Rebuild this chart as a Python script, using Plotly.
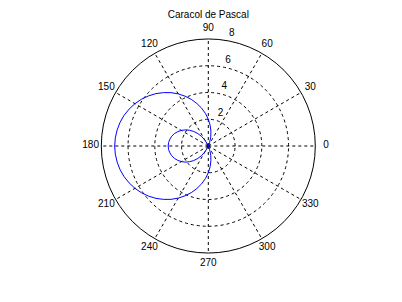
import plotly.graph_objects as go

# Caracol de Pascal (limaçon): signed radius per angle (deg)
theta_deg = [0, 5, 10, 15, 20, 25, 30, 35, 40, 45, 50, 55, 60, 65, 66.4, 70, 75, 80, 85,
             90, 95, 100, 105, 110, 115, 120, 125, 130, 135, 140, 145, 150, 155, 160, 165,
             170, 175, 180, 185, 190, 195, 200, 205, 210, 215, 220, 225, 230, 235, 240,
             245, 250, 255, 260, 265, 270, 275, 280, 285, 290, 293.6, 295, 300, 305, 310,
             315, 320, 325, 330, 335, 340, 345, 350, 355, 360]
r_signed = [-3.0, -2.98, -2.92, -2.83, -2.70, -2.53, -2.33, -2.10, -1.83, -1.54, -1.21, -0.87,
            -0.5, -0.11, 0.0, 0.29, 0.71, 1.13, 1.56,
            2.0, 2.44, 2.87, 3.29, 3.71, 4.11, 4.5, 4.87, 5.21, 5.54, 5.83, 6.10, 6.33, 6.53,
            6.70, 6.83, 6.92, 6.98, 7.0, 6.98, 6.92, 6.83, 6.70, 6.53, 6.33, 6.10, 5.83,
            5.54, 5.21, 4.87, 4.5, 4.11, 3.71, 3.29, 2.87, 2.44, 2.0, 1.56, 1.13, 0.71, 0.29,
            0.0, -0.11, -0.5, -0.87, -1.21, -1.54, -1.83, -2.10, -2.33, -2.53, -2.70, -2.83,
            -2.92, -2.98, -3.0]

radial_ticks = [2, 4, 6, 8]
radial_labels = [str(v) for v in radial_ticks]
angle_ticks = [0, 30, 60, 90, 120, 150, 180, 210, 240, 270, 300, 330]
angle_labels = [str(a) for a in angle_ticks]
title_text = "Caracol de Pascal"
r_max = 8
r_outer = 9.5   # range of the transparent label layer

# a negative radius is drawn on the opposite side, as MATLAB's polar does
plot_r = [abs(v) for v in r_signed]
plot_t = [(t + 180) % 360 if v < 0 else t for t, v in zip(theta_deg, r_signed)]

family = "Liberation Sans, Arial, sans-serif"
font = dict(family=family, size=10, color="black")

# geometry of the main polar disc in pixels
W, H = 402, 302
cx, cy, rad = 208.3, 146.0, 107.0
rad2 = rad * r_outer / r_max

fig = go.Figure()
fig.add_trace(go.Scatterpolar(
    r=plot_r, theta=plot_t, mode="lines",
    line=dict(color="rgb(0,0,255)", width=1),
    showlegend=False, hoverinfo="skip", subplot="polar",
))
# radial labels, MATLAB style: along the 82 degree ray, just past each ring
fig.add_trace(go.Scatterpolar(
    r=[v + r_max / 80 for v in radial_ticks], theta=[82] * len(radial_ticks),
    mode="text", text=["\u00a0\u00a0" + s for s in radial_labels], textposition="top right",
    textfont=font, showlegend=False, hoverinfo="skip", cliponaxis=False,
    subplot="polar2",
))
# angle labels at 1.1 * rmax, centred
fig.add_trace(go.Scatterpolar(
    r=[1.1 * r_max] * len(angle_ticks), theta=angle_ticks,
    mode="text", text=angle_labels, textposition="middle center",
    textfont=font, showlegend=False, hoverinfo="skip", cliponaxis=False,
    subplot="polar2",
))

dash = "3px,3px"
hidden_axis = dict(showgrid=False, showline=False, showticklabels=False, ticks="")
fig.update_layout(
    width=W, height=H,
    margin=dict(l=0, r=0, t=0, b=0),
    paper_bgcolor="white",
    plot_bgcolor="white",
    font=font,
    title=dict(text=title_text, x=cx / W, xanchor="center", y=1 - 14.5 / H, yanchor="middle",
               font=dict(size=10, color="black", family=family)),
    polar=dict(
        domain=dict(x=[(cx - rad) / W, (cx + rad) / W],
                    y=[(H - cy - rad) / H, (H - cy + rad) / H]),
        bgcolor="white",
        radialaxis=dict(
            range=[0, r_max], tickvals=radial_ticks, showticklabels=False,
            angle=82, showline=False, ticks="",
            gridcolor="black", griddash=dash, gridwidth=1,
        ),
        angularaxis=dict(
            rotation=0, direction="counterclockwise",
            tickvals=angle_ticks, showticklabels=False,
            showline=True, linecolor="black", linewidth=1,
            gridcolor="black", griddash=dash, gridwidth=1,
            ticks="",
        ),
    ),
    polar2=dict(
        domain=dict(x=[(cx - rad2) / W, (cx + rad2) / W],
                    y=[(H - cy - rad2) / H, (H - cy + rad2) / H]),
        bgcolor="rgba(0,0,0,0)",
        radialaxis=dict(range=[0, r_outer], **hidden_axis),
        angularaxis=dict(rotation=0, direction="counterclockwise", **hidden_axis),
    ),
)

fig.write_html("out.html", config={"displayModeBar": False})
